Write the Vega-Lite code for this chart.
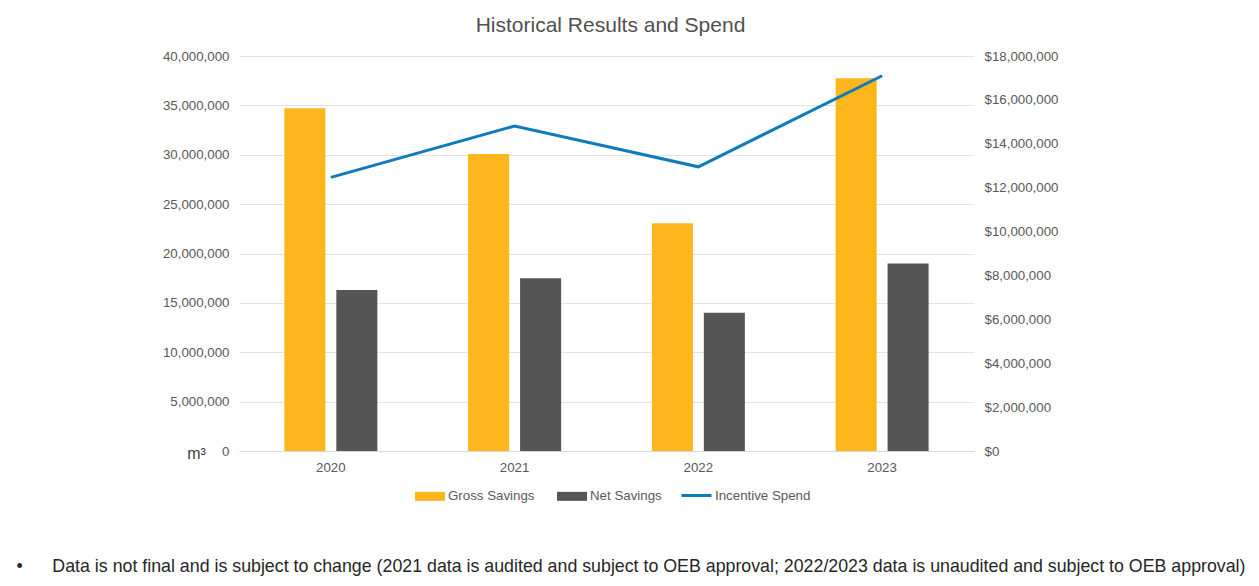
{
  "$schema": "https://vega.github.io/schema/vega-lite/v6.json",
  "autosize": {"type": "none"},
  "padding": {"left": 239, "top": 56, "right": 285, "bottom": 135},
  "width": 735,
  "height": 395,
  "background": "white",
  "title": {"text": "Historical Results and Spend", "fontSize": 21, "font": "Liberation Sans", "fontWeight": "normal", "color": "#505050", "offset": 2, "dx": 4, "baseline": "middle", "anchor": "middle"},
  "config": {
    "font": "Liberation Sans",
    "view": {"stroke": null},
    "axis": {"labelFont": "Liberation Sans", "labelColor": "#595959", "labelFontSize": 13.3, "ticks": false}
  },
  "datasets": {
    "bars": [
      {"year": "2020", "series": "Gross Savings", "value": 34700000},
      {"year": "2020", "series": "Net Savings", "value": 16300000},
      {"year": "2021", "series": "Gross Savings", "value": 30080000},
      {"year": "2021", "series": "Net Savings", "value": 17490000},
      {"year": "2022", "series": "Gross Savings", "value": 23060000},
      {"year": "2022", "series": "Net Savings", "value": 14000000},
      {"year": "2023", "series": "Gross Savings", "value": 37740000},
      {"year": "2023", "series": "Net Savings", "value": 19000000}
    ],
    "spend": [
      {"year": "2020", "series": "Incentive Spend", "spend": 12470000},
      {"year": "2021", "series": "Incentive Spend", "spend": 14810000},
      {"year": "2022", "series": "Incentive Spend", "spend": 12950000},
      {"year": "2023", "series": "Incentive Spend", "spend": 17100000}
    ]
  },
  "encoding": {
    "x": {
      "field": "year",
      "type": "nominal",
      "scale": {"paddingInner": 0.494, "paddingOuter": 0.247},
      "axis": {
        "labelAngle": 0,
        "labelPadding": 9,
        "domainColor": "#D9D9D9",
        "domainWidth": 1,
        "title": "•\u00a0\u00a0\u00a0\u00a0\u00a0\u00a0Data is not final and is subject to change (2021 data is audited and subject to OEB approval; 2022/2023 data is unaudited and subject to OEB approval)",
        "titleFont": "Liberation Sans",
        "titleFontSize": 17.8,
        "titleFontWeight": "normal",
        "titleColor": "#262626",
        "titleX": -223,
        "titleY": 115,
        "titleAlign": "left",
        "titleBaseline": "middle"
      }
    }
  },
  "layer": [
    {
      "data": {"name": "bars"},
      "mark": {"type": "bar"},
      "encoding": {
        "xOffset": {"field": "series", "type": "nominal", "sort": ["Gross Savings", "Net Savings"], "scale": {"paddingInner": 0.21, "paddingOuter": 0}},
        "y": {
          "field": "value",
          "type": "quantitative",
          "scale": {"domain": [0, 40000000]},
          "axis": {
            "orient": "left",
            "values": [0, 5000000, 10000000, 15000000, 20000000, 25000000, 30000000, 35000000, 40000000],
            "format": ",d",
            "domain": false,
            "grid": true,
            "gridColor": "#E3E3E3",
            "labelPadding": 10,
            "title": "m³",
            "titleAngle": 0,
            "titleX": -43,
            "titleY": 402,
            "titleAlign": "center",
            "titleBaseline": "alphabetic",
            "titleFontSize": 16,
            "titleFontWeight": "normal",
            "titleColor": "#404040"
          }
        },
        "fill": {
          "field": "series",
          "type": "nominal",
          "scale": {"domain": ["Gross Savings", "Net Savings"], "range": ["#FDB61C", "#555555"]},
          "legend": {
            "title": null,
            "orient": "none",
            "direction": "horizontal",
            "legendX": 176,
            "legendY": 425,
            "symbolType": "M-1,-0.3H1V0.3H-1Z",
            "symbolSize": 900,
            "symbolStrokeWidth": 0,
            "labelFontSize": 13.3,
            "labelColor": "#595959",
            "labelOffset": 3,
            "columnPadding": 22,
            "padding": 0
          }
        }
      }
    },
    {
      "data": {"name": "spend"},
      "mark": {"type": "line", "strokeWidth": 3},
      "encoding": {
        "y": {
          "field": "spend",
          "type": "quantitative",
          "scale": {"domain": [0, 18000000]},
          "axis": {
            "orient": "right",
            "values": [0, 2000000, 4000000, 6000000, 8000000, 10000000, 12000000, 14000000, 16000000, 18000000],
            "format": "$,d",
            "domain": false,
            "grid": false,
            "labelPadding": 10,
            "title": null
          }
        },
        "stroke": {
          "field": "series",
          "type": "nominal",
          "scale": {"domain": ["Incentive Spend"], "range": ["#0F7BBD"]},
          "legend": {
            "title": null,
            "orient": "none",
            "direction": "horizontal",
            "legendX": 441,
            "legendY": 423,
            "symbolType": "M-1,0H1",
            "symbolSize": 900,
            "symbolStrokeWidth": 3,
            "labelFontSize": 13.3,
            "labelColor": "#595959",
            "labelOffset": 2,
            "padding": 0
          }
        }
      }
    }
  ],
  "resolve": {"scale": {"y": "independent", "fill": "independent", "stroke": "independent"}}
}
